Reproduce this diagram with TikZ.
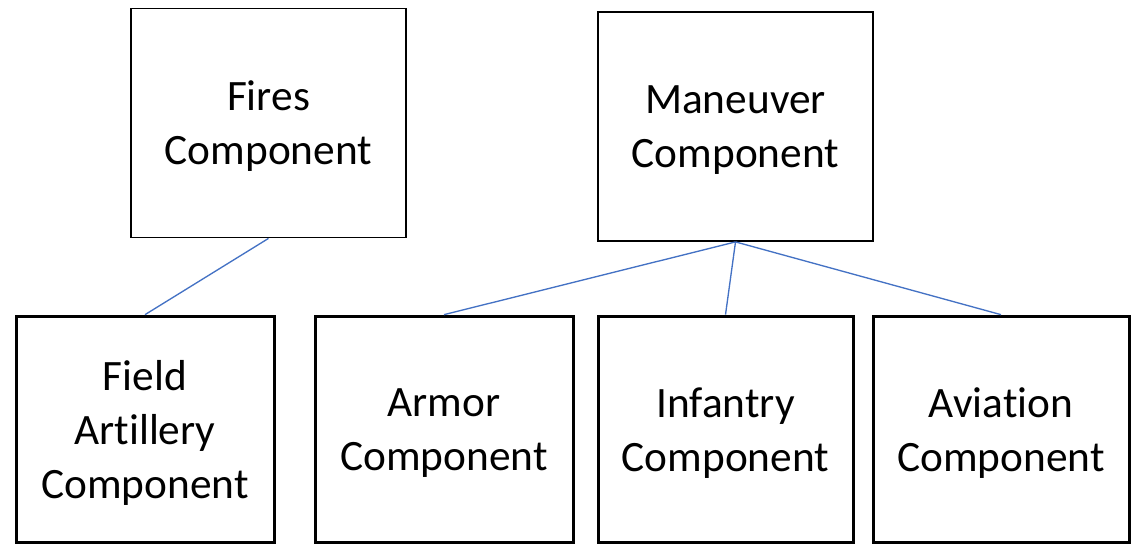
\documentclass[tikz,border=0pt]{standalone}
\usepackage{fontspec}
\setmainfont[Ligatures=NoCommon]{Carlito}
\usetikzlibrary{positioning}
\definecolor{linkblue}{HTML}{4472C4}
\tikzset{unit/.style={draw=black,fill=white,align=center,font=\fontsize{32.5}{40.5}\selectfont,inner sep=0pt,text depth=0pt},head/.style={unit,line width=1.1pt,minimum width=206pt,minimum height=172pt},sub/.style={unit,line width=2.25pt,minimum width=193.5pt,minimum height=170pt},link/.style={draw=linkblue,line width=1pt}}

\begin{document}
\begin{tikzpicture}[x=0.75pt,y=-0.75pt]
\useasboundingbox (0,0) rectangle (1137,545);
\node[head] (fires) at (268.5,123) {Fires\\Component};
\node[head] (man) at (735.5,126.5) {Maneuver\\Component};
\node[sub] (fa) at (145,429.5) {Field\\Artillery\\Component};
\node[sub] (armor) at (444,429.5) {Armor\\Component};
\node[sub,minimum width=191.25pt] (inf) at (725.5,429.5) {Infantry\\Component};
\node[sub,minimum width=192pt] (avi) at (1001,429.5) {Aviation\\Component};
\draw[link] (fires.south) -- (fa.north);
\foreach \n in {armor,inf,avi} \draw[link] (man.south) -- (\n.north);
\end{tikzpicture}
\end{document}
